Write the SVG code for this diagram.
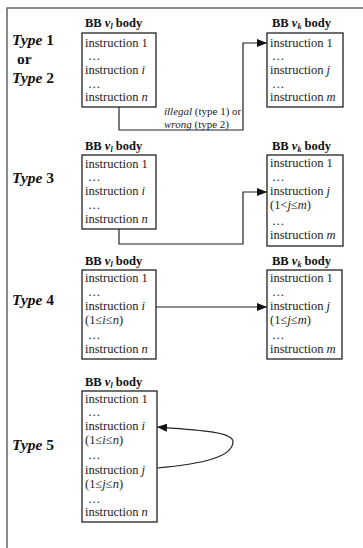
<svg xmlns="http://www.w3.org/2000/svg" width="363" height="548" viewBox="0 0 363 548">
<defs>
<style>
.t{font-family:"Liberation Serif","Times New Roman",serif;font-size:12.5px;fill:#222}
.l{font-family:"Liberation Serif","Times New Roman",serif;font-size:11px;fill:#222}
.h{font-family:"Liberation Serif","Times New Roman",serif;font-size:12.5px;font-weight:bold;fill:#111}
.ty{font-family:"Liberation Serif","Times New Roman",serif;font-size:15.5px;font-weight:bold;fill:#111}
.i{font-style:italic}
.box{fill:#fff;stroke:#222;stroke-width:1.3}
.c{fill:none;stroke:#222;stroke-width:1.2}
</style>
<marker id="ah" markerWidth="10" markerHeight="8" refX="10" refY="4" orient="auto" markerUnits="userSpaceOnUse">
<path d="M0,0 L10,4 L0,8 Z" fill="#111"/>
</marker>
</defs>
<rect width="363" height="548" fill="#fff"/>
<path d="M7,548 V8 H363" fill="none" stroke="#666" stroke-width="1.5"/>

<g id="labels">
<text class="ty" x="12" y="45"><tspan class="i">Type</tspan> 1</text>
<text class="ty" x="17" y="64">or</text>
<text class="ty" x="12" y="83"><tspan class="i">Type</tspan> 2</text>
<text class="ty" x="12" y="183"><tspan class="i">Type</tspan> 3</text>
<text class="ty" x="12" y="305"><tspan class="i">Type</tspan> 4</text>
<text class="ty" x="12" y="450"><tspan class="i">Type</tspan> 5</text>
</g>

<g id="t12_vl">
<text class="h" x="85" y="27">BB <tspan class="i">v</tspan><tspan class="i" font-size="8" dy="2">l</tspan><tspan dy="-2"> body</tspan></text>
<rect class="box" x="82" y="33" width="74" height="74"/>
<text class="t" x="85" y="47">instruction 1</text>
<text class="t" x="88" y="60">…</text>
<text class="t" x="85" y="74">instruction <tspan class="i">i</tspan></text>
<text class="t" x="88" y="88">…</text>
<text class="t" x="85" y="101">instruction <tspan class="i">n</tspan></text>
</g>

<g id="t12_vk">
<text class="h" x="272" y="27">BB <tspan class="i">v</tspan><tspan class="i" font-size="8" dy="2">k</tspan><tspan dy="-2"> body</tspan></text>
<rect class="box" x="267" y="33" width="76" height="74"/>
<text class="t" x="270" y="47">instruction 1</text>
<text class="t" x="272" y="60">…</text>
<text class="t" x="270" y="74">instruction <tspan class="i">j</tspan></text>
<text class="t" x="272" y="88">…</text>
<text class="t" x="270" y="101">instruction <tspan class="i">m</tspan></text>
</g>

<g id="t3_vl">
<text class="h" x="85" y="150">BB <tspan class="i">v</tspan><tspan class="i" font-size="8" dy="2">l</tspan><tspan dy="-2"> body</tspan></text>
<rect class="box" x="82" y="155" width="74" height="74"/>
<text class="t" x="85" y="168">instruction 1</text>
<text class="t" x="88" y="181">…</text>
<text class="t" x="85" y="195">instruction <tspan class="i">i</tspan></text>
<text class="t" x="88" y="209">…</text>
<text class="t" x="85" y="223">instruction <tspan class="i">n</tspan></text>
</g>

<g id="t3_vk">
<text class="h" x="272" y="150">BB <tspan class="i">v</tspan><tspan class="i" font-size="8" dy="2">k</tspan><tspan dy="-2"> body</tspan></text>
<rect class="box" x="267" y="155" width="76" height="91"/>
<text class="t" x="270" y="167">instruction 1</text>
<text class="t" x="272" y="181">…</text>
<text class="t" x="270" y="195">instruction <tspan class="i">j</tspan></text>
<text class="t" x="270" y="209">(1&lt;<tspan class="i">j</tspan>≤<tspan class="i">m</tspan>)</text>
<text class="t" x="272" y="225">…</text>
<text class="t" x="270" y="239">instruction <tspan class="i">m</tspan></text>
</g>

<g id="t4_vl">
<text class="h" x="85" y="265">BB <tspan class="i">v</tspan><tspan class="i" font-size="8" dy="2">l</tspan><tspan dy="-2"> body</tspan></text>
<rect class="box" x="82" y="270" width="74" height="89"/>
<text class="t" x="85" y="282">instruction 1</text>
<text class="t" x="88" y="296">…</text>
<text class="t" x="85" y="310">instruction <tspan class="i">i</tspan></text>
<text class="t" x="85" y="324">(1≤<tspan class="i">i</tspan>≤<tspan class="i">n</tspan>)</text>
<text class="t" x="88" y="339">…</text>
<text class="t" x="85" y="353">instruction <tspan class="i">n</tspan></text>
</g>

<g id="t4_vk">
<text class="h" x="272" y="265">BB <tspan class="i">v</tspan><tspan class="i" font-size="8" dy="2">k</tspan><tspan dy="-2"> body</tspan></text>
<rect class="box" x="267" y="270" width="75" height="89"/>
<text class="t" x="270" y="282">instruction 1</text>
<text class="t" x="272" y="296">…</text>
<text class="t" x="270" y="310">instruction <tspan class="i">j</tspan></text>
<text class="t" x="270" y="324">(1≤<tspan class="i">j</tspan>≤<tspan class="i">m</tspan>)</text>
<text class="t" x="272" y="339">…</text>
<text class="t" x="270" y="353">instruction <tspan class="i">m</tspan></text>
</g>

<g id="t5_vl">
<text class="h" x="85" y="386">BB <tspan class="i">v</tspan><tspan class="i" font-size="8" dy="2">l</tspan><tspan dy="-2"> body</tspan></text>
<rect class="box" x="82" y="391" width="75" height="131"/>
<text class="t" x="85" y="403">instruction 1</text>
<text class="t" x="88" y="416">…</text>
<text class="t" x="85" y="430">instruction <tspan class="i">i</tspan></text>
<text class="t" x="85" y="444">(1≤<tspan class="i">i</tspan>≤<tspan class="i">n</tspan>)</text>
<text class="t" x="88" y="459">…</text>
<text class="t" x="85" y="474">instruction <tspan class="i">j</tspan></text>
<text class="t" x="85" y="488">(1≤<tspan class="i">j</tspan>≤<tspan class="i">n</tspan>)</text>
<text class="t" x="88" y="503">…</text>
<text class="t" x="85" y="516">instruction <tspan class="i">n</tspan></text>
</g>

<g id="connectors">
<path class="c" d="M119,107 V130 H243 V43 H267" marker-end="url(#ah)"/>
<text class="l" x="164" y="115"><tspan class="i">illegal</tspan> (type 1) or</text>
<text class="l" x="164" y="127.5"><tspan class="i">wrong</tspan> (type 2)</text>
<path class="c" d="M119,229 V244 H243 V192 H267" marker-end="url(#ah)"/>
<path class="c" d="M156,307 H267" marker-end="url(#ah)"/>
<path class="c" d="M157,468 C200,464 232,458 233,442 C234,432 200,430 157,427" marker-end="url(#ah)"/>
</g>
</svg>
